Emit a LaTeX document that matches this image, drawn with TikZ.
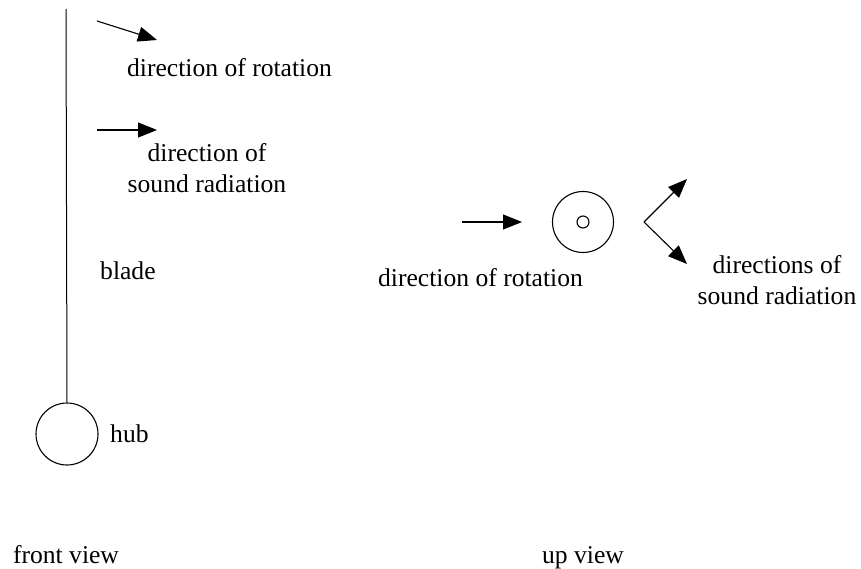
\documentclass[tikz,border=0pt]{standalone}
\usepackage{fontspec}
\setmainfont{Liberation Serif}
\usetikzlibrary{arrows.meta}
\begin{document}
\begin{tikzpicture}[x=1pt,y=-1pt,
  lbl/.style={inner sep=0pt,font=\fontsize{25.6}{31}\selectfont,anchor=base},
  ln/.style={line width=1.1pt},
  arr/.style={ln,-{Triangle[length=19pt,width=15pt]}},
  ring/.style={draw,circle,line width=1.1pt,inner sep=0pt}]
\useasboundingbox (0,0) rectangle (861,569);
% front view
\coordinate (bladetop) at (66,9);
\node[ring,minimum size=62pt] (hub) at (67,434) {};
\draw[line width=1pt] (bladetop) -- (hub.north);
\coordinate (a1s) at (97,21); \coordinate (a1e) at (157,40);
\draw[arr] (a1s) -- (a1e);
\node[lbl] (rot1) at (229.5,77) {direction of rotation};
\coordinate (a2s) at (97,130); \coordinate (a2e) at (157,130);
\draw[arr] (a2s) -- (a2e);
\node[lbl,align=center] (snd1) at (207,193) {direction of\\sound radiation};
\node[lbl,anchor=base west] (blade) at (100,279) {blade};
\node[lbl,anchor=base west] (hubl) at (110,442) {hub};
\node[lbl] (front) at (66,563) {front view};
% up view
\node[ring,minimum size=61pt] (disk) at (583,222) {};
\node[ring,minimum size=12pt] (axle) at (583,222) {};
\coordinate (a3s) at (462,222); \coordinate (a3e) at (522,222);
\draw[arr] (a3s) -- (a3e);
\coordinate (v) at (644,222);
\coordinate (vu) at (687,179); \coordinate (vd) at (687,264);
\draw[arr] (v) -- (vu);
\draw[arr] (v) -- (vd);
\node[lbl] (rot2) at (480.5,286) {direction of rotation};
\node[lbl,align=center] (snd2) at (777,304) {directions of\\sound radiation};
\node[lbl] (up) at (583,563) {up view};
\end{tikzpicture}
\end{document}
